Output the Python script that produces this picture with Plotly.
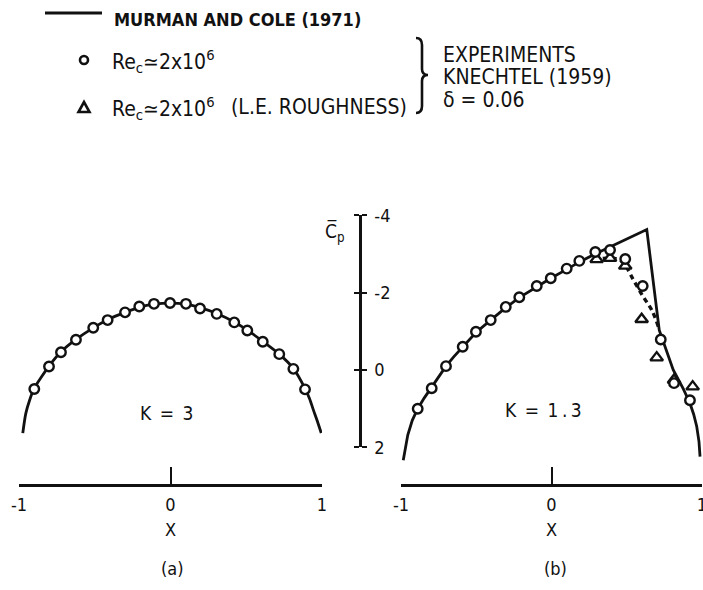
import plotly.graph_objects as go

# ---- Surface pressure coefficient, K = 3 (panel a) ----
k3_curve_x = [-0.975, -0.955, -0.93, -0.899, -0.85, -0.802, -0.723, -0.624, -0.51, -0.415,
              -0.30, -0.206, -0.109, -0.003, 0.102, 0.195, 0.305, 0.421, 0.507, 0.609,
              0.718, 0.811, 0.888, 0.918, 0.943, 0.97, 0.995]
k3_curve_cp = [1.63, 1.12, 0.78, 0.47, 0.17, -0.10, -0.47, -0.79, -1.09, -1.30,
               -1.49, -1.62, -1.70, -1.73, -1.70, -1.61, -1.46, -1.24, -1.03, -0.74,
               -0.41, -0.04, 0.48, 0.74, 1.03, 1.33, 1.63]
k3_exp_x = [-0.899, -0.802, -0.723, -0.624, -0.510, -0.415, -0.300, -0.206, -0.109, -0.003,
            0.102, 0.195, 0.305, 0.421, 0.507, 0.609, 0.718, 0.811, 0.888]
k3_exp_cp = [0.49, -0.09, -0.46, -0.78, -1.09, -1.29, -1.49, -1.64, -1.71, -1.73,
             -1.71, -1.59, -1.45, -1.23, -1.02, -0.73, -0.41, -0.03, 0.50]

# ---- Surface pressure coefficient, K = 1.3 (panel b) ----
k13_curve_x = [-0.985, -0.955, -0.925, -0.889, -0.845, -0.796, -0.75, -0.701, -0.65, -0.59,
               -0.502, -0.404, -0.304, -0.214, -0.098, -0.005, 0.101, 0.189, 0.30, 0.411,
               0.633, 0.716, 0.809, 0.875, 0.920, 0.945, 0.965, 0.98, 0.987]
k13_curve_cp = [2.33, 1.68, 1.30, 1.00, 0.72, 0.45, 0.17, -0.10, -0.34, -0.60,
                -0.97, -1.29, -1.61, -1.87, -2.16, -2.37, -2.60, -2.80, -3.02, -3.23,
                -3.63, -1.03, 0.0, 0.48, 0.86, 1.15, 1.46, 1.85, 2.24]
k13_exp_x = [-0.889, -0.796, -0.701, -0.590, -0.502, -0.404, -0.304, -0.214, -0.098, -0.005,
             0.101, 0.185, 0.291, 0.389, 0.490, 0.606, 0.726, 0.814, 0.920]
k13_exp_cp = [1.00, 0.47, -0.10, -0.60, -0.99, -1.29, -1.63, -1.88, -2.17, -2.37,
              -2.62, -2.82, -3.05, -3.10, -2.87, -2.17, -0.79, 0.34, 0.78]
k13_rough_x = [0.300, 0.389, 0.490, 0.599, 0.699, 0.814, 0.938]
k13_rough_cp = [-2.86, -2.89, -2.69, -1.31, -0.32, 0.26, 0.43]
k13_fair_x = [0.28, 0.389, 0.45, 0.488, 0.544, 0.610, 0.666, 0.710]
k13_fair_cp = [-2.86, -2.89, -2.85, -2.72, -2.33, -1.89, -1.55, -1.12]

x_ticks = [-1, 0, 1]
x_tick_text = ["-1", "0", "1"]
cp_ticks = [-4, -2, 0, 2]
cp_tick_text = ["-4", "-2", "0", "2"]

W, H = 703, 590
FONT = "DejaVu Sans Condensed, DejaVu Sans, sans-serif"
INK = "#111111"


def fx(p):
    return p / W


def fy(p):
    return 1 - p / H


CP_RANGE = [2.946, -4.91]
PLOT_DOMAIN = [fy(484), fy(180)]

fig = go.Figure()

line_style = dict(color=INK, width=2.8)
open_circle = dict(symbol="circle", size=9.5, color="white", line=dict(color=INK, width=2.4))
open_tri = dict(symbol="triangle-up", size=11, color="white", line=dict(color=INK, width=2.4))

# panel (a)
fig.add_trace(go.Scatter(x=k3_curve_x, y=k3_curve_cp, mode="lines",
                         line=dict(shape="spline", smoothing=0.8, **line_style),
                         xaxis="x", yaxis="y", showlegend=False, hoverinfo="skip"))
fig.add_trace(go.Scatter(x=k3_exp_x, y=k3_exp_cp, mode="markers", marker=open_circle,
                         xaxis="x", yaxis="y", showlegend=False, cliponaxis=False))

# panel (b)
fig.add_trace(go.Scatter(x=k13_curve_x, y=k13_curve_cp, mode="lines",
                         line=dict(shape="linear", **line_style),
                         xaxis="x2", yaxis="y2", showlegend=False, hoverinfo="skip"))
fig.add_trace(go.Scatter(x=k13_fair_x, y=k13_fair_cp, mode="lines",
                         line=dict(color=INK, width=3.4, dash="5px,4px", shape="spline"),
                         xaxis="x2", yaxis="y2", showlegend=False, hoverinfo="skip"))
fig.add_trace(go.Scatter(x=k13_rough_x, y=k13_rough_cp, mode="markers", marker=open_tri,
                         xaxis="x2", yaxis="y2", showlegend=False, cliponaxis=False))
fig.add_trace(go.Scatter(x=k13_exp_x, y=k13_exp_cp, mode="markers", marker=open_circle,
                         xaxis="x2", yaxis="y2", showlegend=False, cliponaxis=False))

# carriers for the free-standing Cp scale (two axes give crossing ticks)
for ya in ("y3", "y4"):
    fig.add_trace(go.Scatter(x=[None], y=[None], mode="markers", xaxis="x2", yaxis=ya,
                             showlegend=False, hoverinfo="skip"))

tick_font = dict(family=FONT, size=18, color=INK)

xaxis_common = dict(range=[-1, 1], showline=True, linewidth=2.5, linecolor=INK,
                    ticks="inside", ticklen=17, tickwidth=2.2, tickcolor=INK,
                    tickvals=x_ticks, ticktext=x_tick_text, tickfont=tick_font,
                    showgrid=False, zeroline=False, automargin=False,
                    ticklabelstandoff=3, ticklabeloverflow="allow",
                    title=dict(text="X", font=tick_font, standoff=10))
yaxis_hidden = dict(range=CP_RANGE, domain=PLOT_DOMAIN, visible=False,
                    showgrid=False, zeroline=False, automargin=False)
cp_axis = dict(range=[2, -4], domain=[fy(447.4), fy(215.2)], anchor="free",
               position=fx(360), showline=True, linewidth=2.5, linecolor=INK,
               ticks="outside", ticklen=5, tickwidth=2.2, tickcolor=INK,
               tickvals=cp_ticks, ticktext=cp_tick_text, showgrid=False,
               zeroline=False, automargin=False, tickfont=tick_font)

fig.update_layout(
    width=W, height=H, autosize=False,
    margin=dict(l=0, r=0, t=0, b=0),
    paper_bgcolor="white", plot_bgcolor="rgba(0,0,0,0)",
    font=dict(family=FONT, size=18, color=INK),
    xaxis=dict(domain=[fx(19), fx(322)], anchor="y", **xaxis_common),
    yaxis=dict(anchor="x", **yaxis_hidden),
    xaxis2=dict(domain=[fx(401), fx(702)], anchor="y2", **xaxis_common),
    yaxis2=dict(anchor="x2", **yaxis_hidden),
    yaxis3=dict(side="right", showticklabels=True, ticklabelstandoff=4, **cp_axis),
    yaxis4=dict(side="left", showticklabels=False, **cp_axis),
)

ann = []


def note(text, x, y, size=18, xanchor="left", yanchor="middle", **kw):
    ann.append(dict(text=text, x=fx(x), y=fy(y), xref="paper", yref="paper",
                    xanchor=xanchor, yanchor=yanchor, showarrow=False,
                    font=dict(family=FONT, size=size, color=INK), **kw))


RE_TEXT = "Re<sub>c</sub>\u22432x10<sup>6</sup>"
note("<b>MURMAN AND COLE (1971)</b>", 112, 19, size=18)
note(RE_TEXT, 110, 61, size=21)
note(RE_TEXT, 110, 108, size=21)
note("(L.E. ROUGHNESS)", 229, 107, size=21)
note("EXPERIMENTS", 441, 55, size=21)
note("KNECHTEL (1959)", 441, 77, size=21)
note("\u03b4 = 0.06", 441, 100, size=21)
note("C\u0305<sub>p</sub>", 335, 232, size=19, xanchor="center")
note("(a)", 172, 568, xanchor="center")
note("(b)", 555, 568, xanchor="center")

ann.append(dict(text="K\u2002=\u20023", x=-0.02, y=1.11, xref="x", yref="y", showarrow=False,
                font=dict(family=FONT, size=19, color=INK)))
ann.append(dict(text="K\u2002=\u20021\u2009.\u20093", x=-0.05, y=1.03, xref="x2", yref="y2",
                showarrow=False, font=dict(family=FONT, size=19, color=INK)))
fig.update_layout(annotations=ann)

# legend keys and the brace grouping the experimental entries
shapes = [
    dict(type="line", xref="paper", yref="paper", x0=fx(45), x1=fx(102), y0=fy(13), y1=fy(13),
         line=dict(color=INK, width=3)),
    dict(type="circle", xref="paper", yref="paper", x0=fx(80), x1=fx(88), y0=fy(64), y1=fy(56),
         line=dict(color=INK, width=2.6), fillcolor="white"),
    dict(type="path", xref="paper", yref="paper",
         path="M {},{} L {},{} L {},{} Z".format(fx(78.5), fy(112), fx(89.5), fy(112), fx(84), fy(102)),
         line=dict(color=INK, width=2.6), fillcolor="white"),
]
brace_pts = [(416, 38), (422, 38), (422, 45), (422, 69), (422, 75), (428, 75), (422, 75),
             (422, 81), (422, 106), (422, 113), (416, 113)]
b = [(fx(a), fy(c)) for a, c in brace_pts]
brace_path = ("M {0[0]},{0[1]} Q {1[0]},{1[1]} {2[0]},{2[1]} L {3[0]},{3[1]} "
              "Q {4[0]},{4[1]} {5[0]},{5[1]} Q {6[0]},{6[1]} {7[0]},{7[1]} "
              "L {8[0]},{8[1]} Q {9[0]},{9[1]} {10[0]},{10[1]}").format(*b)
shapes.append(dict(type="path", xref="paper", yref="paper", path=brace_path,
                   line=dict(color=INK, width=2.6)))
fig.update_layout(shapes=shapes)

fig.write_html("out.html")
